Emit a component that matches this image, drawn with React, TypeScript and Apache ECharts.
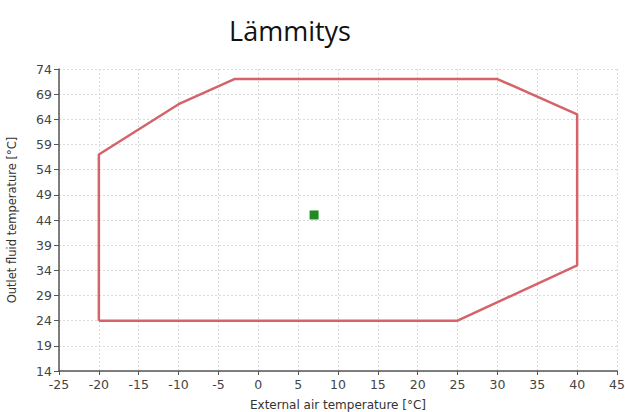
import React, { useEffect, useRef } from "react";
import * as echarts from "echarts";

const envelopeX = [-20, -20, -10, -3, 30, 40, 40, 25, -20];
const envelopeY = [24, 57, 67, 72, 72, 65, 35, 24, 24];
const pointX = [7];
const pointY = [45];
const yTicks = [14, 19, 24, 29, 34, 39, 44, 49, 54, 59, 64, 69, 74];
const xMin = -25;
const xMax = 45;
const xStep = 5;
const titleText = "Lämmitys";
const xName = "External air temperature [°C]";
const yName = "Outlet fluid temperature [°C]";

export default function App() {
  const ref = useRef<HTMLDivElement>(null);
  useEffect(() => {
    if (!ref.current) return;
    const chart = echarts.init(ref.current, null, { renderer: "svg" });
    const font = "DejaVu Sans, sans-serif";
    chart.setOption({
      animation: false,
      backgroundColor: "#fff",
      title: {
        text: titleText,
        left: 285,
        top: 12,
        textAlign: "center",
        textStyle: { fontFamily: "Open Sans, Noto Sans, sans-serif", fontSize: 27, fontWeight: "normal", color: "#111" },
      },
      grid: { left: 59, right: 8, top: 69, bottom: 41, containLabel: false, outerBoundsMode: "none" },
      xAxis: {
        type: "value",
        min: xMin,
        max: xMax,
        interval: xStep,
        name: xName,
        nameLocation: "middle",
        nameGap: 28,
        nameTextStyle: { fontFamily: font, fontSize: 12, color: "#333" },
        axisLine: { show: true, onZero: false, lineStyle: { color: "#555", width: 1.5 } },
        axisTick: { show: true, length: 4, lineStyle: { color: "#555" } },
        axisLabel: { fontFamily: font, fontSize: 12.5, color: "#444", margin: 7 },
        splitLine: { show: true, lineStyle: { color: "#dadada", type: [2, 2], width: 1 } },
      },
      yAxis: {
        type: "value",
        min: yTicks[0],
        max: yTicks[yTicks.length - 1],
        name: yName,
        nameLocation: "middle",
        nameGap: 41,
        nameTextStyle: { fontFamily: font, fontSize: 11.5, color: "#333" },
        axisLine: { show: true, onZero: false, lineStyle: { color: "#555", width: 1.5 } },
        axisTick: { show: true, length: 5, customValues: yTicks, lineStyle: { color: "#555" } },
        axisLabel: { fontFamily: font, fontSize: 12.5, color: "#444", margin: 7, customValues: yTicks },
        splitLine: { show: true, lineStyle: { color: "#dadada", type: [2, 2], width: 1 } },
      },
      series: [
        {
          type: "line",
          data: envelopeX.map((x, i) => [x, envelopeY[i]]),
          showSymbol: false,
          symbol: "none",
          lineStyle: { color: "#d4636a", width: 2.5 },
          z: 3,
        },
        {
          type: "scatter",
          data: pointX.map((x, i) => [x, pointY[i]]),
          symbol: "rect",
          symbolSize: 9,
          itemStyle: { color: "#1e8a22", opacity: 1 },
          z: 4,
        },
      ],
    });
    return () => chart.dispose();
  }, []);
  return <div ref={ref} style={{ width: 625, height: 412, position: "absolute", left: 0, top: 0 }} />;
}
